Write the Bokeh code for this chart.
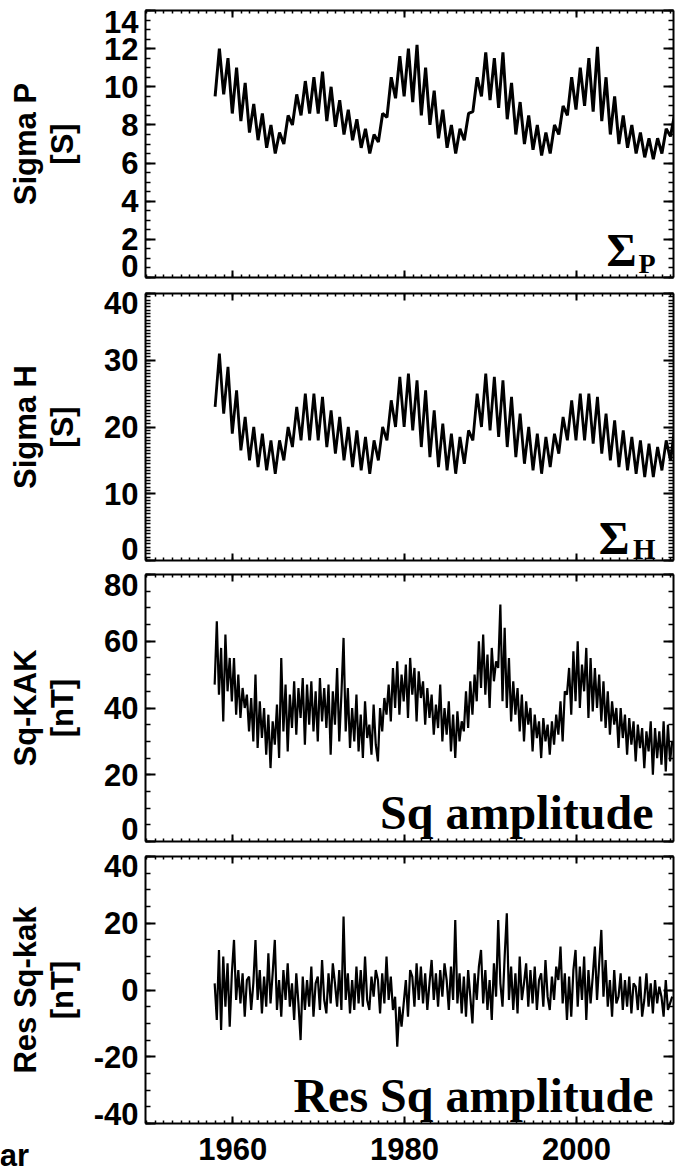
import numpy as np
from bokeh.plotting import figure
from bokeh.models import LinearAxis, FixedTicker, Label, Range1d
from bokeh.layouts import column
from bokeh.core.properties import value
from bokeh.embed import file_html
from bokeh.resources import INLINE

# ---------------- data ----------------
years = list(range(1958, 2012))

sigma_p_min = [9.5, 9.6, 8.6, 8.2, 7.6, 7.2, 6.8, 6.5, 7.0, 8.0,
               8.5, 8.6, 8.6, 8.2, 7.9, 7.5, 7.2, 6.8, 6.5, 7.1,
               8.4, 9.4, 9.5, 9.2, 8.5, 8.0, 7.3, 6.8, 6.5, 7.2,
               8.7, 9.5, 9.3, 8.9, 8.3, 7.5, 7.0, 6.7, 6.4, 6.5,
               7.5, 8.5, 8.8, 9.0, 8.7, 8.2, 7.5, 7.0, 6.8, 6.5,
               6.3, 6.2, 6.5, 7.4]
sigma_p_max = [12.0, 11.5, 11.0, 10.2, 9.1, 8.6, 8.0, 7.6, 8.5, 9.6,
               10.3, 10.5, 10.8, 10.0, 9.3, 8.8, 8.3, 7.8, 7.5, 8.6,
               10.5, 11.6, 12.0, 12.2, 11.0, 9.8, 8.8, 8.0, 7.8, 8.6,
               10.5, 11.8, 11.5, 11.8, 10.2, 9.2, 8.5, 8.0, 7.6, 8.0,
               9.0, 10.5, 11.0, 11.5, 12.1, 10.5, 9.5, 8.5, 8.0, 7.6,
               7.3, 7.3, 7.8, 8.6]

sigma_h_min = [23, 22, 19, 16.5, 15, 14, 13.5, 13, 15, 17,
               18, 18, 18, 17, 16, 15, 14, 13.5, 13, 15,
               18, 20, 20, 19.5, 17, 15.5, 14, 13.5, 13, 14.5,
               18, 20, 19.5, 18.5, 17, 15.5, 14.5, 13.5, 13, 14,
               16, 18, 18, 18, 17.5, 16, 15, 14, 13.5, 13,
               12.5, 12.5, 13.5, 15]
sigma_h_max = [31, 29, 25.5, 21.5, 20, 19, 18, 18, 20, 23,
               25, 25, 24.5, 22.5, 21.5, 20, 19.5, 18.5, 18, 20,
               24, 27.5, 28, 27, 25.5, 22.5, 20.5, 19, 18.5, 19.5,
               25, 28, 27.5, 27, 24.5, 22, 20, 19, 18.5, 19,
               21.5, 24, 25, 25, 24.5, 22, 21, 19.5, 18.5, 18,
               17.5, 17, 18, 20]

# quarterly samples starting 1957.9
sq_start = 1957.9
sq_kak = [47, 66, 44, 58,  36, 62, 45, 55,  42, 55, 38, 50,  37, 46, 40, 44,
          33, 43, 30, 50,  28, 42, 31, 40,  26, 38, 22, 36,  29, 41, 25, 55,
          33, 47, 27, 44,  34, 48, 32, 46,  37, 49, 29, 47,  35, 48, 33, 45,
          30, 49, 36, 46,  34, 47, 26, 45,  35, 52, 30, 44,  61, 33, 46, 28,
          40, 30, 44, 27,  38, 25, 42, 31,  35, 26, 41, 29,  24, 40, 33, 43,
          38, 47, 36, 52,  40, 54, 38, 50,  42, 53, 37, 55,  44, 52, 36, 51,
          43, 48, 35, 46,  37, 44, 32, 41,  34, 47, 30, 40,  32, 42, 27, 38,
          25, 39, 30, 36,  33, 45, 34, 48,  38, 50, 42, 60,  46, 62, 44, 56,
          40, 58, 48, 54,  52, 71, 42, 64,  40, 55, 36, 48,  38, 46, 33, 44,
          30, 42, 35, 40,  27, 38, 31, 36,  25, 37, 30, 35,  26, 36, 29, 38,
          32, 42, 30, 45,  44, 52, 38, 57,  42, 60, 40, 53,  45, 58, 37, 55,
          39, 52, 40, 50,  36, 48, 34, 45,  32, 42, 35, 40,  28, 40, 31, 38,
          26, 37, 29, 36,  24, 35, 28, 34,  22, 33, 27, 36,  20, 34, 25, 33,
          23, 36, 21, 35,  24, 30]
res_sq_kak = [2, -9, 12, -12,  10, -5, 8, -11,  5, 15, -3, 6,  -4, 5, -8, 3,
              4, -6, 2, 15,  -3, 6, -7, 4,  -5, 11, -4, 5,  15, -6, 3, -8,
              6, -3, 8, -5,  2, -9, 5, -4,  -15, 4, -6, 3,  -5, 7, -8, 2,
              4, -6, 9, -3,  -7, 5, -4, 8,  2, -5, 6, -6,  22, -3, 5, -7,
              3, -6, 7, -4,  6, -5, 10, -3,  -6, 4, -2, 6,  3, -7, 5, -4,
              10, -3, 4, -6,  -2, -17, -5, -11,  -4, 3, -8, 6,  4, -5, 8, -3,
              7, -4, 5, -6,  2, 9, -3, 5,  -5, 6, -2, 8,  3, -6, 7, -3,
              21, -4, 5, -7,  4, -8, 6, -2,  -10, 5, -3, 7,  12, -4, 6, -6,
              3, -9, 8, -2,  21, 2, -5, 10,  23, -3, 7, -6,  5, -7, 10, -3,
              2, 8, -5, 6,  -4, 7, -6, 3,  5, -5, 9, -2,  -6, 4, -3, 7,
              3, 13, -4, 5,  -9, 4, -8, 6,  12, -5, 7, -3,  10, -9, 6, -4,
              4, 13, -3, 8,  18, -2, 9, -5,  3, -8, 6, -4,  -2, 5, -6, 3,
              -5, 4, -7, 2,  1, -6, 4, -8,  -3, 5, -5, 2,  -7, 3, -4, 1,
              -2, -8, 3, -6,  -4, -2]

x_ticks = [1960, 1980, 2000]
x_tick_labels = ["1960", "1980", "2000"]
x_minor_ticks = list(range(1950, 2012))
x_title = "ar"   # only the tail of the x title is visible in the original

# ---------------- layout constants ----------------
X0, X1 = 1949.85, 2011.3
FRAME_W, FRAME_H = 528, 267
LEFT = 145
PX_PER_YEAR = FRAME_W / (X1 - X0)
SANS = "Liberation Sans"
SERIF = "Liberation Serif"
FS = "31px"


def no_align(p):
    if "frame_align" in p.properties():
        p.frame_align = False


def sigma_series(vmin, vmax):
    t, v = [], []
    for y, a, b in zip(years, vmin, vmax):
        t += [y - 0.05, y + 0.45]
        v += [a, b]
    return t, v


def quarterly(vals):
    return [sq_start + 0.25 * i for i in range(len(vals))], vals


def tick_axis(ticks, minor, tin, min_in):
    ax = LinearAxis(ticker=FixedTicker(ticks=ticks, minor_ticks=minor))
    ax.axis_line_width = 2
    ax.axis_line_color = "black"
    ax.major_tick_line_width = 2
    ax.minor_tick_line_width = 1.5
    ax.major_tick_line_color = "black"
    ax.minor_tick_line_color = "black"
    ax.major_tick_in = tin
    ax.major_tick_out = 0
    ax.minor_tick_in = min_in
    ax.minor_tick_out = 0
    ax.major_label_text_font_size = "1px"
    ax.major_label_text_color = None
    ax.major_label_standoff = 0
    ax.axis_label = None
    return ax


def add_label(p, text, x, y, xo, yo, size, font=SERIF, align="right"):
    p.add_layout(Label(x=x, y=y, x_offset=xo, y_offset=yo, text=text,
                       text_font=font, text_font_style="bold",
                       text_font_size=f"{size}px", text_color="black",
                       text_align=align, text_baseline="alphabetic"))


def make_panel(height, top, bottom, ymin, ymax, yticks, yminor, t, v,
               title, top_shift, bottom_shift, title_standoff, lw):
    p = figure(width=LEFT + FRAME_W + 2, height=height, title=None,
               x_range=Range1d(X0, X1), y_range=Range1d(ymin, ymax),
               output_backend="svg", toolbar_location=None,
               x_axis_location=None, y_axis_location=None,
               min_border_left=LEFT, min_border_right=2,
               min_border_top=top, min_border_bottom=bottom)
    no_align(p)
    p.grid.visible = False
    p.outline_line_color = None
    p.background_fill_color = "white"
    p.border_fill_color = "white"
    p.add_layout(tick_axis(x_ticks, x_minor_ticks, 7, 3), "below")
    p.add_layout(tick_axis(x_ticks, x_minor_ticks, 7, 3), "above")
    p.add_layout(tick_axis(yticks, yminor, 10, 5), "right")
    p.add_layout(tick_axis(yticks, yminor, 10, 5), "left")
    # outer left axis that only carries the tick labels and the title;
    # the two edge labels are nudged inside the frame like the original
    units_per_px = (ymax - ymin) / FRAME_H
    pos, overrides = [], {}
    for val in yticks:
        if val == ymax:
            q = round(val - top_shift * units_per_px, 3)
        elif val == ymin:
            q = round(val + bottom_shift * units_per_px, 3)
        else:
            q = val
        pos.append(q)
        overrides[q] = str(val)
    lab = LinearAxis(ticker=FixedTicker(ticks=pos, minor_ticks=[]))
    lab.major_label_overrides = overrides
    lab.axis_line_color = None
    lab.major_tick_line_color = None
    lab.minor_tick_line_color = None
    lab.major_tick_in = 0
    lab.major_tick_out = 0
    lab.minor_tick_in = 0
    lab.minor_tick_out = 0
    lab.major_label_standoff = 7
    lab.major_label_text_font = SANS
    lab.major_label_text_font_style = "bold"
    lab.major_label_text_font_size = FS
    lab.major_label_text_color = "black"
    lab.axis_label = title
    lab.axis_label_text_font = SANS
    lab.axis_label_text_font_style = "bold"
    lab.axis_label_text_font_size = FS
    lab.axis_label_text_color = "black"
    lab.axis_label_text_line_height = 1.05
    lab.axis_label_standoff = title_standoff
    p.add_layout(lab, "left")
    p.line(t, v, line_color="black", line_width=lw)
    return p


# ---------------- panels ----------------
t1, v1 = sigma_series(sigma_p_min, sigma_p_max)
p1 = make_panel(285, 10, 8, 0, 14, [0, 2, 4, 6, 8, 10, 12, 14],
                [i * 0.5 for i in range(29)], t1, v1, "Sigma P\n[S]",
                11, 12, 21, 3.0)
add_label(p1, "Σ", X1, 0, -37, 27, 46)
add_label(p1, "P", X1, 0, -18, 14, 28)

t2, v2 = sigma_series(sigma_h_min, sigma_h_max)
p2 = make_panel(282, 8, 7, 0, 40, [0, 10, 20, 30, 40],
                [i * 0.5 for i in range(81)], t2, v2, "Sigma H\n[S]",
                10, 11, 21, 2.8)
add_label(p2, "Σ", X1, 0, -44, 23, 47)
add_label(p2, "H", X1, 0, -18, 12, 29)

t3, v3 = quarterly(sq_kak)
p3 = make_panel(281, 7, 7, 0, 80, [0, 20, 40, 60, 80],
                list(range(0, 81, 5)), t3, v3, "Sq-KAK\n[nT]",
                10, 13, 21, 2.2)
add_label(p3, "Sq amplitude", X1, 0, -20, 29, 48)

t4, v4 = quarterly(res_sq_kak)
p4 = make_panel(285, 8, 10, -40, 40, [-40, -20, 0, 20, 40],
                list(range(-40, 41, 5)), t4, v4, "Res Sq-kak\n[nT]",
                10, 9, 11, 2.2)
add_label(p4, "Res Sq amplitude", X1, -40, -20, 28, 48)

# strip under the last panel with the year labels, on the same x scale;
# texts hang from the top of the strip's frame
strip_h = 34
xs0 = X0 - LEFT / PX_PER_YEAR
ps = figure(width=LEFT + FRAME_W + 2, height=strip_h, title=None,
            x_range=Range1d(xs0, X1), y_range=Range1d(0, 1),
            output_backend="svg", toolbar_location=None,
            x_axis_location=None, y_axis_location=None,
            min_border_left=0, min_border_right=2, min_border_top=4,
            min_border_bottom=0)
no_align(ps)
ps.grid.visible = False
ps.outline_line_color = None
ps.text(x=x_ticks, y=[1] * len(x_ticks), text=x_tick_labels,
        text_font=value(SANS), text_font_style="bold", text_font_size=FS,
        text_align="center", text_baseline="top", text_color="black")
ps.text(x=[xs0 + 14 / PX_PER_YEAR], y=[1], text=[x_title],
        text_font=value(SANS), text_font_style="bold", text_font_size=FS,
        text_align="center", text_baseline="top", text_color="black")

layout = column(p1, p2, p3, p4, ps, spacing=0)
open("out.html", "w").write(file_html(layout, INLINE))
